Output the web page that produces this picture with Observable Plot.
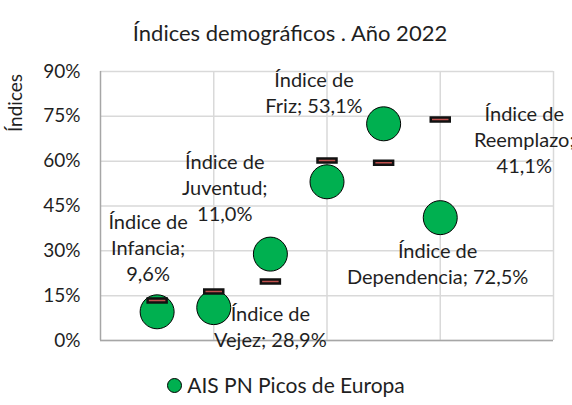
<!DOCTYPE html>
<html><head><meta charset="utf-8">
<script src="https://cdn.jsdelivr.net/npm/d3@7"></script>
<script src="https://cdn.jsdelivr.net/npm/@observablehq/plot@0.6"></script>
<style>
body{margin:0;background:#fff;font-family:Lato,"Noto Sans",sans-serif;}
#wrap{position:relative;width:572px;height:405px;overflow:hidden;}
#title{position:absolute;top:20px;left:4px;width:572px;text-align:center;font-size:22px;color:#1f1f1f;line-height:26px;}
#ylab{position:absolute;left:15px;top:103px;transform:translate(-50%,-50%) rotate(-90deg);font-size:19px;color:#1f1f1f;white-space:nowrap;line-height:22px;}
#legend{position:absolute;top:372px;left:0;width:572px;display:flex;justify-content:center;align-items:center;font-size:21px;color:#1f1f1f;line-height:26px;}
#legend .sw{width:13px;height:13px;border-radius:50%;background:#00b050;border:1px solid #000;margin-right:5px;}
#chart{position:absolute;top:0;left:0;}
</style>
</head><body>
<div id="wrap">
  <div id="chart"></div>
  <div id="title"></div>
  <div id="ylab"></div>
  <div id="legend"><div class="sw"></div><span id="legtext"></span></div>
</div>
<script>
const titleText = "Índices demográficos . Año 2022";
const yLabel = "Índices";
const seriesName = "AIS PN Picos de Europa";
const categories = ["Infancia", "Juventud", "Vejez", "Friz", "Dependencia", "Reemplazo"];
const xValues = [0.5, 1, 1.5, 2, 2.5, 3];
const valuesPicos = [9.6, 11.0, 28.9, 53.1, 72.5, 41.1];
const valuesRef = [13.4, 16.4, 19.7, 60.2, 59.5, 73.9];
const yTicks = [0, 15, 30, 45, 60, 75, 90];
const xGrid = [1, 2, 3, 4];

// label layout (pixel offsets from the point, line breaks)
const labelLayout = [
  {dx: -9, dy: -65, split: true},
  {dx: 11, dy: -121, split: true},
  {dx: 0, dy: 72, split: false},
  {dx: -13, dy: -90, split: false},
  {dx: 54, dy: 139, split: false},
  {dx: 84, dy: -79, split: true}
];

const fmt = v => v.toFixed(1).replace(".", ",") + "%";
const pts = categories.map((c, i) => ({cat: c, x: xValues[i], y: valuesPicos[i]}));
const refs = categories.map((c, i) => ({cat: c, x: xValues[i], y: valuesRef[i]}));

const dashSymbol = {draw(ctx) { ctx.moveTo(-9.5, -2); ctx.lineTo(9.5, -2); ctx.lineTo(9.5, 2); ctx.lineTo(-9.5, 2); ctx.closePath(); }};

const textColor = "#1f1f1f";
const labelMarks = pts.map((p, i) => {
  const L = labelLayout[i];
  const txt = "Índice de\n" + p.cat + ";" + (L.split ? "\n" : " ") + fmt(p.y);
  return Plot.text([p], {x: "x", y: "y", text: () => txt, dx: L.dx, dy: L.dy,
    lineAnchor: "middle", textAnchor: "middle", lineHeight: 26 / 20, fontSize: 20, fill: textColor});
});

const chart = Plot.plot({
  width: 572, height: 405,
  marginLeft: 100, marginRight: 19, marginTop: 71, marginBottom: 65,
  style: {fontFamily: "Lato, 'Noto Sans', sans-serif", fontSize: "19px", color: textColor, background: "transparent", overflow: "hidden"},
  x: {domain: [0, 4], axis: null},
  y: {domain: [0, 90], ticks: yTicks, tickFormat: d => d + "%", tickSize: 0, tickPadding: 20, label: null},
  marks: [
    Plot.gridY(yTicks, {stroke: "#d9d9d9", strokeOpacity: 1, strokeWidth: 1.5}),
    Plot.gridX(xGrid, {stroke: "#d9d9d9", strokeOpacity: 1, strokeWidth: 1.5}),
    Plot.ruleX([0], {stroke: "#a6a6a6", strokeWidth: 1.5}),
    Plot.ruleY([0], {stroke: "#a6a6a6", strokeWidth: 1.5}),
    ...labelMarks,
    Plot.dot(pts, {x: "x", y: "y", r: 17, fill: "#00b050", stroke: "#000", strokeWidth: 1}),
    Plot.dot(refs, {x: "x", y: "y", symbol: dashSymbol, fill: "#c0504d", stroke: "#111", strokeWidth: 2.5})
  ]
});
document.getElementById("chart").appendChild(chart);
document.getElementById("title").textContent = titleText;
document.getElementById("ylab").textContent = yLabel;
document.getElementById("legtext").textContent = seriesName;
</script>
</body></html>
